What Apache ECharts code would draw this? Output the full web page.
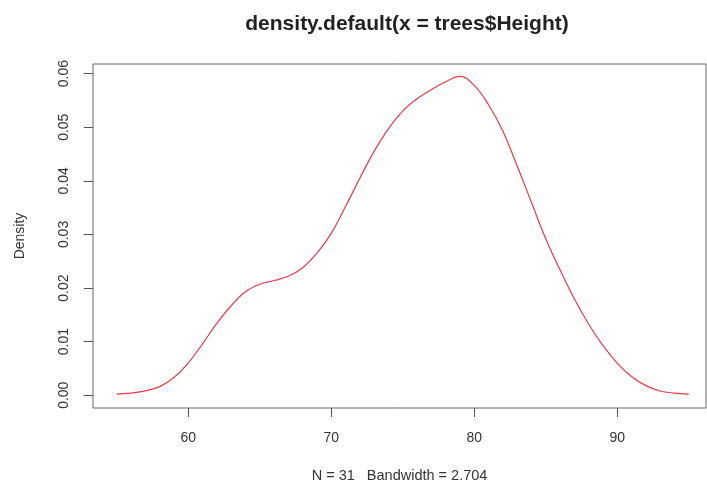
<!DOCTYPE html>
<html>
<head>
<meta charset="utf-8">
<title>density.default(x = trees$Height)</title>
<script src="https://cdn.jsdelivr.net/npm/echarts@6/dist/echarts.min.js"></script>
<style>
  html, body { margin: 0; padding: 0; background: #fff; }
  #chart { width: 707px; height: 491px; }
</style>
</head>
<body>
<div id="chart"></div>
<script>
// Kernel density estimate of tree heights (x) and the estimated density (y)
const heights = [55, 56, 57, 58, 59, 60, 61, 62, 63, 64, 65, 66, 67, 68, 69, 70,
                 71, 72, 73, 74, 75, 76, 77, 78, 79, 80, 81, 82, 83, 84, 85,
                 86, 87, 88, 89, 90, 91, 92, 93, 94, 95];
const density = [0.0002, 0.0004, 0.0008, 0.0016, 0.0033, 0.0060, 0.0096, 0.0134,
                 0.0167, 0.0193, 0.0207, 0.0214, 0.0222, 0.0238, 0.0265, 0.0302,
                 0.0352, 0.0405, 0.0455, 0.0497, 0.0530, 0.0553, 0.0570, 0.0585,
                 0.0595, 0.0578, 0.0542, 0.0493, 0.0428, 0.0360, 0.0292, 0.0234,
                 0.0180, 0.0133, 0.0093, 0.0060, 0.0035, 0.0018, 0.0008, 0.0004,
                 0.0002];

// Tick labels
const xTicks = [60, 70, 80, 90];
const yTicks = [0, 0.01, 0.02, 0.03, 0.04, 0.05, 0.06];

const titleText = 'density.default(x = trees$Height)';
const subText = 'N = 31   Bandwidth = 2.704';
const yName = 'Density';

const points = heights.map((h, i) => [h, density[i]]);

const font = 'Liberation Sans, Arial, Helvetica, sans-serif';
const chart = echarts.init(document.getElementById('chart'), null, { renderer: 'canvas' });

chart.setOption({
  animation: false,
  backgroundColor: '#ffffff',
  title: {
    text: titleText,
    left: 402,
    textAlign: 'center',
    top: 9,
    textStyle: { fontFamily: font, fontWeight: 'bold', fontSize: 21, color: '#222' }
  },
  grid: {
    left: 93,
    top: 64,
    right: 1,
    height: 344,
    show: true,
    borderColor: '#666',
    borderWidth: 1,
    backgroundColor: 'transparent'
  },
  xAxis: {
    type: 'value',
    min: 53.34,
    max: 96.21,
    splitLine: { show: false },
    axisLine: { show: false, onZero: false },
    axisTick: { show: true, inside: false, length: 9, customValues: xTicks,
                lineStyle: { color: '#555', width: 1 } },
    axisLabel: { customValues: xTicks, margin: 23, fontSize: 14, fontFamily: font, color: '#333' },
    name: subText,
    nameLocation: 'middle',
    nameGap: 60,
    nameTextStyle: { fontSize: 14.5, fontFamily: font, color: '#333' }
  },
  yAxis: {
    type: 'value',
    min: -0.00238,
    max: 0.0618,
    splitLine: { show: false },
    axisLine: { show: false, onZero: false },
    axisTick: { show: true, inside: false, length: 9, customValues: yTicks,
                lineStyle: { color: '#555', width: 1 } },
    axisLabel: {
      customValues: yTicks,
      rotate: 90,
      margin: 22,
      fontSize: 14,
      fontFamily: font,
      color: '#333',
      formatter: v => v.toFixed(2)
    },
    name: yName,
    nameLocation: 'middle',
    nameRotate: 90,
    nameGap: 66,
    nameTextStyle: { fontSize: 14, fontFamily: font, color: '#333' }
  },
  series: [{
    type: 'line',
    data: points,
    smooth: 0.4,
    showSymbol: false,
    lineStyle: { color: '#e63a48', width: 1.2 },
    silent: true
  }]
});
</script>
</body>
</html>
